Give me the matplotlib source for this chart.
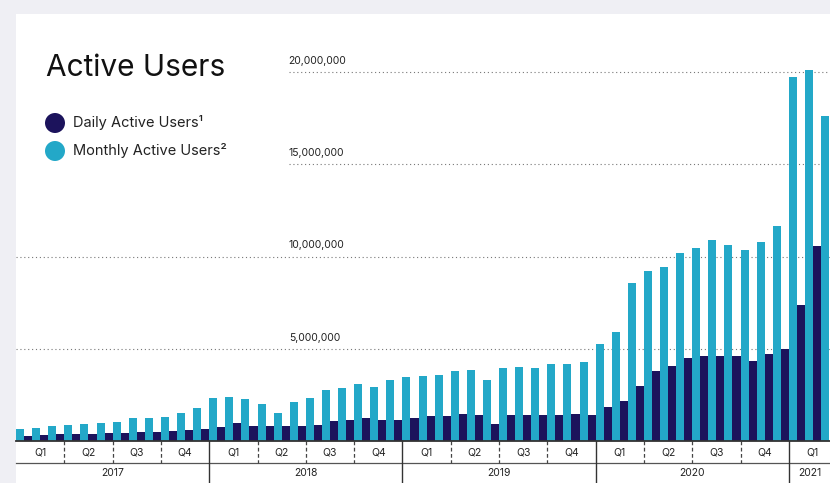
import numpy as np
import matplotlib
matplotlib.use("Agg")
import matplotlib.pyplot as plt
import matplotlib.transforms as mtransforms
from matplotlib.patches import Rectangle, Ellipse

plt.rcParams['font.family'] = ['Inter', 'DejaVu Sans']

# monthly values, Jan 2017 .. Mar 2021 (millions)
mau = [0.63, 0.69, 0.81, 0.85, 0.90, 0.96, 1.03, 1.23, 1.23, 1.31, 1.53, 1.80,
       2.34, 2.40, 2.25, 2.00, 1.53, 2.14, 2.34, 2.77, 2.85, 3.10, 2.92, 3.28,
       3.46, 3.53, 3.57, 3.78, 3.85, 3.28, 3.96, 4.00, 3.96, 4.15, 4.18, 4.29,
       5.24, 5.89, 8.54, 9.19, 9.41, 10.20, 10.47, 10.89, 10.65, 10.36, 10.79, 11.66,
       19.75, 20.09, 17.64]
dau = [0.27, 0.31, 0.38, 0.36, 0.40, 0.41, 0.43, 0.49, 0.49, 0.56, 0.59, 0.67,
       0.77, 0.95, 0.83, 0.83, 0.81, 0.83, 0.88, 1.06, 1.14, 1.24, 1.12, 1.12,
       1.24, 1.35, 1.35, 1.46, 1.41, 0.92, 1.39, 1.42, 1.39, 1.39, 1.46, 1.42,
       1.82, 2.16, 2.99, 3.77, 4.07, 4.52, 4.59, 4.59, 4.63, 4.31, 4.70, 4.99,
       7.39, 10.58]
years = ['2017', '2018', '2019', '2020', '2021']
quarters = ['Q1', 'Q2', 'Q3', 'Q4']
yticks = [5, 10, 15, 20]

light = '#23a8c8'
dark = '#1c135c'
W, H = 830, 483

fig = plt.figure(figsize=(W / 100, H / 100), dpi=100, facecolor='#efeff4')
fig.patches.append(Rectangle((16 / W, 0), 1, (H - 14) / H, transform=fig.transFigure,
                             facecolor='white', edgecolor='none', zorder=-10))

base = 441
ax = fig.add_axes([16 / W, (H - base) / H, 1 - 16 / W, (base - 14) / H])
ax.set_facecolor('none')
pxm = 18.45
ax.set_ylim(0, (base - 14) / pxm)
ax.set_xlim(0, (W - 16) / 16.1)

mx = np.arange(len(mau))
dx = np.arange(len(dau))
ax.bar(mx, mau, width=0.5, align='edge', color=light, zorder=2)
ax.bar(dx + 0.5, dau, width=0.5, align='edge', color=dark, zorder=2)

for s in ax.spines.values():
    s.set_visible(False)
ax.set_xticks([])
ax.set_yticks([])

# gridlines + labels
lt = mtransforms.blended_transform_factory(ax.transAxes, ax.transData)
for v in yticks:
    xmin = 0.335 if v >= 15 else 0
    ax.axhline(v, xmin=xmin, xmax=1, color='#777777', lw=0.8, ls=(0, (1, 2.5)), zorder=1)
    ax.text(0.335, v + 0.6, f'{v * 1000000:,}', transform=lt,
            fontsize=7.5, color='#222222', ha='left', va='center')

# category axis below
xt = ax.get_xaxis_transform()
h = base - 14
q_bottom = -22 / h
f_bottom = -42 / h
ax.plot([0, 60], [0, 0], transform=xt, color='#333333', lw=1.3, clip_on=False, zorder=3)
ax.plot([0, 60], [q_bottom, q_bottom], transform=xt, color='#555555', lw=0.9, clip_on=False)
for yi, yr in enumerate(years):
    start = yi * 12
    for qi, q in enumerate(quarters):
        m = start + qi * 3
        if m + 1.5 > 51:
            continue
        ax.text(m + 1.5, -11 / h, q, transform=xt, ha='center', va='center',
                fontsize=7.5, color='#222222')
        if qi > 0:
            ax.plot([m, m], [0, q_bottom], transform=xt, color='#444444', lw=0.9,
                    ls=(0, (3, 2)), clip_on=False)
    if yi > 0:
        ax.plot([start, start], [0, f_bottom], transform=xt, color='#333333', lw=1.0,
                clip_on=False)
    cx = start + 6 if yi < 4 else 49.3
    ax.text(cx, -32 / h, yr, transform=xt, ha='center', va='center', fontsize=7.5,
            color='#222222')

# title and legend
fig.text(46 / W, 1 - 68 / H, 'Active Users', fontsize=21.5, color='#111111',
         ha='left', va='center')
for i, (lab, c) in enumerate([('Daily Active Users¹', dark), ('Monthly Active Users²', light)]):
    yy = 123 + i * 28
    fig.patches.append(Ellipse((55 / W, 1 - yy / H), 20 / W, 20 / H,
                               transform=fig.transFigure, facecolor=c, edgecolor='none'))
    fig.text(73 / W, 1 - yy / H, lab, fontsize=10.5, color='#222222',
             ha='left', va='center')

fig.savefig('out.png', dpi=100, facecolor=fig.get_facecolor())
